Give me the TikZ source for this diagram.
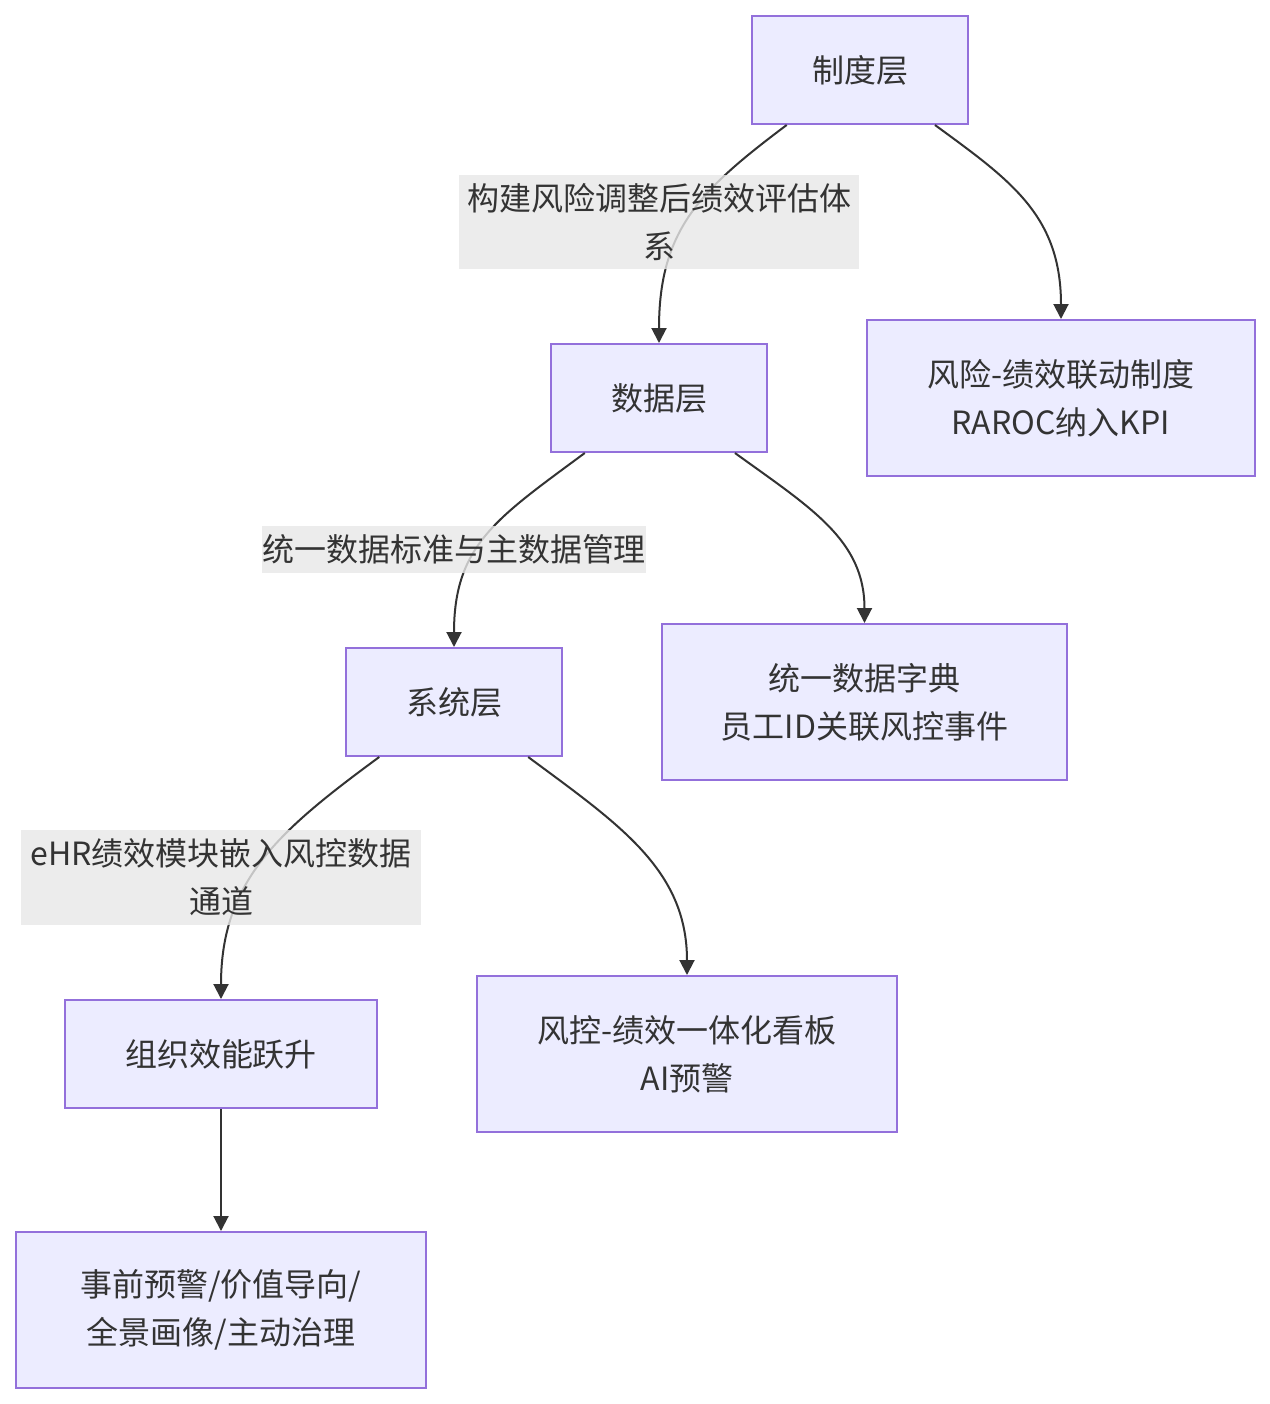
\documentclass[tikz,border=0pt]{standalone}
\usepackage{fontspec}
\setmainfont{Noto Sans CJK SC}
\usepackage{tikz}
\usetikzlibrary{arrows.meta,positioning}
\definecolor{mmfill}{HTML}{ECECFF}
\definecolor{mmline}{HTML}{9370DB}
\definecolor{mmedge}{HTML}{333333}
\definecolor{mmtag}{HTML}{E8E8E8}
\definecolor{mmtext}{HTML}{333333}

\begin{document}
\begin{tikzpicture}[x=0.5pt,y=-0.5pt,>={Triangle[length=7.5pt,width=7.5pt]}]
    \tikzset{layer/.style={draw=mmline,fill=mmfill,line width=1pt,inner sep=0pt,minimum width=108pt,minimum height=54pt,align=center,text=mmtext,font=\fontsize{16}{24}\selectfont},
      wide/.style={layer,minimum height=78pt},
      edgetag/.style={fill=mmtag,fill opacity=.8,text opacity=1,inner sep=0pt,align=center,text=mmtext,font=\fontsize{16}{24}\selectfont},
      arrow/.style={->,line width=1pt,mmedge}}
    \useasboundingbox[fill=white] (0,0) rectangle (1270,1404);
    % layers
    \node[layer] (zdc) at (860,70) {制度层};
    \node[layer] (sjc) at (659,398) {数据层};
    \node[layer] (xtc) at (454,702) {系统层};
    \node[layer,minimum width=156pt] (xnyt) at (221,1054) {组织效能跃升};
    % outcomes
    \node[wide,minimum width=194pt] (ldzd) at (1061,398) {风险-绩效联动制度\\RAROC纳入KPI};
    \node[wide,minimum width=202.5pt] (sjzd) at (864.5,702) {统一数据字典\\员工ID关联风控事件};
    \node[wide,minimum width=210pt] (ythkb) at (687,1054) {风控-绩效一体化看板\\AI预警};
    \node[wide,minimum width=205pt] (zlmb) at (221,1310) {事前预警/价值导向/\\全景画像/主动治理};
    % connectors
    \draw[arrow] (zdc) .. controls (700,190) and (659,230) .. (sjc);
    \draw[arrow] (zdc) .. controls (1010,180) and (1061,215) .. (ldzd);
    \draw[arrow] (sjc) .. controls (497,518) and (454,545) .. (xtc);
    \draw[arrow] (sjc) .. controls (811,508) and (864.5,540) .. (sjzd);
    \draw[arrow] (xtc) .. controls (280,830) and (221,880) .. (xnyt);
    \draw[arrow] (xtc) .. controls (620,825) and (687,870) .. (ythkb);
    \draw[arrow] (xnyt) -- (zlmb);
    % edge labels
    \node[edgetag,minimum width=200pt,minimum height=47pt] (tag1) at (659,222) {构建风险调整后绩效评估体\\系};
    \node[edgetag,minimum width=192pt,minimum height=23.5pt] (tag2) at (454,549) {统一数据标准与主数据管理};
    \node[edgetag,minimum width=200pt,minimum height=47.5pt] (tag3) at (221,877.5) {eHR绩效模块嵌入风控数据\\通道};
  \end{tikzpicture}
\end{document}
